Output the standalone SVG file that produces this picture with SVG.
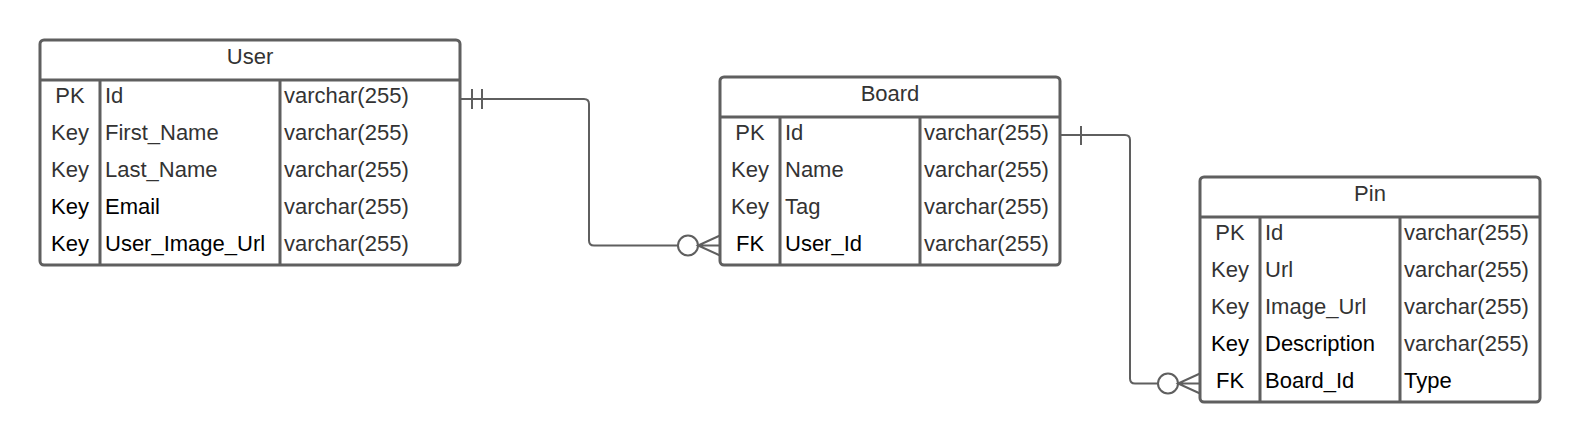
<svg xmlns="http://www.w3.org/2000/svg" width="1580" height="442" viewBox="0 0 1580 442">
<style>
.box{fill:#ffffff;stroke:#5f5f5f;stroke-width:3}
.div{stroke:#5f5f5f;stroke-width:3;fill:none}
.conn{stroke:#5f5f5f;stroke-width:2;fill:none}
.circ{stroke:#5f5f5f;stroke-width:2;fill:#ffffff}
text{font-family:"Liberation Sans",Arial,sans-serif;font-size:22px;fill:#333333}
.h{text-anchor:middle}
.k{text-anchor:middle}
.dk{fill:#000000}
</style>
<rect width="1580" height="442" fill="#ffffff"/>
<g id="connectors">
<path class="conn" d="M460,99 H584 Q589,99 589,104 V240.5 Q589,245.5 594,245.5 H678"/>
<path class="conn" d="M472,89 V109 M482,89 V109"/>
<circle class="circ" cx="688" cy="245.5" r="10"/>
<path class="conn" d="M720,235.5 L698,245.5 L720,255.5 M698,245.5 H720"/>
<path class="conn" d="M1060,135 H1125 Q1130,135 1130,140 V378.5 Q1130,383.5 1135,383.5 H1158"/>
<path class="conn" d="M1081,126 V145"/>
<circle class="circ" cx="1168" cy="383.5" r="10"/>
<path class="conn" d="M1200,373.5 L1178,383.5 L1200,393.5 M1178,383.5 H1200"/>
</g>
<g id="user">
<rect class="box" x="40" y="40" width="420" height="225" rx="4"/>
<path class="div" d="M40,80 H460 M100,80 V265 M280,80 V265"/>
<text class="h" x="250" y="64">User</text>
<text class="k" x="70" y="102.5">PK</text><text x="105" y="102.5">Id</text><text x="284" y="102.5">varchar(255)</text>
<text class="k" x="70" y="139.5">Key</text><text x="105" y="139.5">First_Name</text><text x="284" y="139.5">varchar(255)</text>
<text class="k" x="70" y="176.5">Key</text><text x="105" y="176.5">Last_Name</text><text x="284" y="176.5">varchar(255)</text>
<text class="k dk" x="70" y="213.5">Key</text><text class="dk" x="105" y="213.5">Email</text><text x="284" y="213.5">varchar(255)</text>
<text class="k dk" x="70" y="250.5">Key</text><text class="dk" x="105" y="250.5">User_Image_Url</text><text x="284" y="250.5">varchar(255)</text>
</g>
<g id="board">
<rect class="box" x="720" y="77" width="340" height="188" rx="4"/>
<path class="div" d="M720,117 H1060 M780,117 V265 M920,117 V265"/>
<text class="h" x="890" y="101">Board</text>
<text class="k" x="750" y="139.5">PK</text><text x="785" y="139.5">Id</text><text x="924" y="139.5">varchar(255)</text>
<text class="k" x="750" y="176.5">Key</text><text x="785" y="176.5">Name</text><text x="924" y="176.5">varchar(255)</text>
<text class="k" x="750" y="213.5">Key</text><text x="785" y="213.5">Tag</text><text x="924" y="213.5">varchar(255)</text>
<text class="k dk" x="750" y="250.5">FK</text><text class="dk" x="785" y="250.5">User_Id</text><text x="924" y="250.5">varchar(255)</text>
</g>
<g id="pin">
<rect class="box" x="1200" y="177" width="340" height="225" rx="4"/>
<path class="div" d="M1200,217 H1540 M1260,217 V402 M1400,217 V402"/>
<text class="h" x="1370" y="201">Pin</text>
<text class="k" x="1230" y="239.5">PK</text><text x="1265" y="239.5">Id</text><text x="1404" y="239.5">varchar(255)</text>
<text class="k" x="1230" y="276.5">Key</text><text x="1265" y="276.5">Url</text><text x="1404" y="276.5">varchar(255)</text>
<text class="k" x="1230" y="313.5">Key</text><text x="1265" y="313.5">Image_Url</text><text x="1404" y="313.5">varchar(255)</text>
<text class="k dk" x="1230" y="350.5">Key</text><text class="dk" x="1265" y="350.5">Description</text><text x="1404" y="350.5">varchar(255)</text>
<text class="k dk" x="1230" y="387.5">FK</text><text class="dk" x="1265" y="387.5">Board_Id</text><text class="dk" x="1404" y="387.5">Type</text>
</g>
</svg>
